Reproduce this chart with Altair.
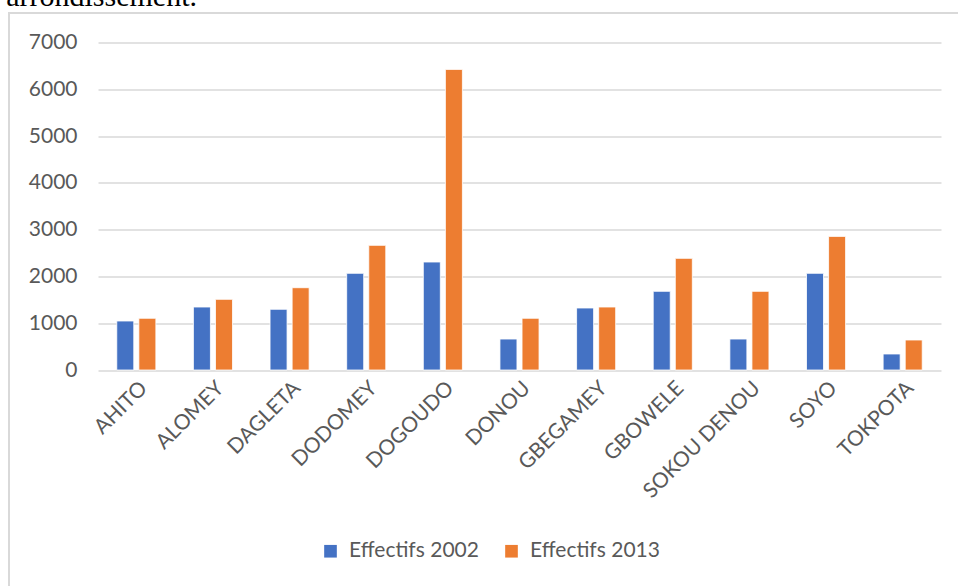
import altair as alt
import pandas as pd

categories = ["AHITO", "ALOMEY", "DAGLETA", "DODOMEY", "DOGOUDO", "DONOU",
              "GBEGAMEY", "GBOWELE", "SOKOU DENOU", "SOYO", "TOKPOTA"]
eff_2002 = [1047, 1346, 1297, 2066, 2308, 662, 1325, 1681, 662, 2066, 342]
eff_2013 = [1105, 1510, 1759, 2664, 6425, 1105, 1346, 2386, 1681, 2856, 641]
series = ["Effectifs 2002", "Effectifs 2013"]
colors = ["#4472C4", "#ED7D31"]

rows = []
for i, c in enumerate(categories):
    rows.append({"cat": c, "serie": series[0], "val": eff_2002[i]})
    rows.append({"cat": c, "serie": series[1], "val": eff_2013[i]})
df = pd.DataFrame(rows)

FONT = "Lato"
GREY = "#595959"

bars = alt.Chart(df).mark_bar(stroke="white", strokeWidth=0.8).encode(
    x=alt.X("cat:N", sort=categories, title=None,
            scale=alt.Scale(paddingInner=0.49, paddingOuter=0.245),
            axis=alt.Axis(labelAngle=-45, labelFont=FONT, labelFontSize=21,
                          labelColor=GREY, ticks=False, domain=False,
                          labelPadding=7, grid=False)),
    xOffset=alt.XOffset("serie:N", sort=series,
                        scale=alt.Scale(paddingInner=0.23, paddingOuter=0)),
    y=alt.Y("val:Q", title=None,
            scale=alt.Scale(domain=[0, 7000], nice=False),
            axis=alt.Axis(values=list(range(0, 7001, 1000)), format="d",
                          labelFont=FONT, labelFontSize=21, labelColor=GREY,
                          ticks=False, domain=False, labelPadding=21,
                          gridColor="#d9d9d9", gridWidth=1.6)),
    color=alt.Color("serie:N", sort=series,
                    scale=alt.Scale(domain=series, range=colors),
                    legend=alt.Legend(title=None, orient="none", direction="horizontal",
                                      legendX=222, legendY=498, symbolType="square",
                                      symbolSize=160, symbolStrokeWidth=0,
                                      labelFont=FONT, labelFontSize=21,
                                      labelColor=GREY, columnPadding=22,
                                      labelOffset=8)),
)

frame = alt.Chart(pd.DataFrame({"a": [0]})).mark_rect(
    fill=None, stroke="#d9d9d9", strokeWidth=2
).encode(x=alt.value(-89), x2=alt.value(900), y=alt.value(-29.5), y2=alt.value(600))

caption = alt.Chart(pd.DataFrame({"t": ["arrondissement."]})).mark_text(
    font="Liberation Serif", fontSize=30, align="right", baseline="alphabetic",
    color="black"
).encode(text="t:N", x=alt.value(99), y=alt.value(-36.5))

chart = alt.layer(frame, bars, caption).properties(
    width=843, height=327.5,
    padding={"left": 98, "top": 42.5, "right": 17, "bottom": 216},
    autosize=alt.AutoSizeParams(type="none"),
    background="white",
).configure_view(stroke=None)

chart.save("out.html", embed_options={"renderer": "svg", "actions": False})
